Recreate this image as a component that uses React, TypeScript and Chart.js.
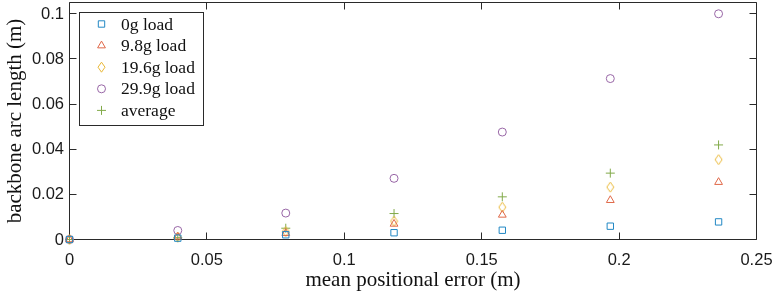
import React, { useEffect, useRef } from 'react';
import { Chart, registerables } from 'chart.js';

Chart.register(...registerables);

// ---- data ----
const xValues = [0, 0.0394, 0.0787, 0.1181, 0.1575, 0.1968, 0.2362];
const load0g = [0, 0.0006, 0.0021, 0.003, 0.0041, 0.0059, 0.0078];
const load9_8g = [0, 0.0012, 0.0028, 0.0069, 0.0109, 0.0174, 0.0254];
const load19_6g = [0, 0.001, 0.0035, 0.0081, 0.0143, 0.0232, 0.0354];
const load29_9g = [0, 0.004, 0.0117, 0.0271, 0.0476, 0.0713, 0.1];
const average = [0, 0.0008, 0.005, 0.0115, 0.0189, 0.0294, 0.0419];

const seriesLabels = ['0g load', '9.8g load', '19.6g load', '29.9g load', 'average'];
const seriesValues = [load0g, load9_8g, load19_6g, load29_9g, average];
const seriesColors = ['#2288c4', '#e06848', '#eab836', '#9866a6', '#82aa4a'];
const seriesMarkers = ['square', 'triangle', 'diamond', 'circle', 'plus'];

const xTicks = [0, 0.05, 0.1, 0.15, 0.2, 0.25];
const yTicks = [0, 0.02, 0.04, 0.06, 0.08, 0.1];
const xTitle = 'mean positional error (m)';
const yTitle = 'backbone arc length (m)';

const AXIS_COLOR = '#2a2a2a';
const TICK_LEN = 7;
const TICK_FONT = '16.5px "Liberation Sans", Arial, sans-serif';

function fmt(v: number) {
  return String(Number(v.toFixed(4)));
}

function makeDiamond(color: string) {
  const c = document.createElement('canvas');
  c.width = 9;
  c.height = 12;
  const g = c.getContext('2d')!;
  g.strokeStyle = color;
  g.lineWidth = 1;
  g.beginPath();
  g.moveTo(4.5, 1);
  g.lineTo(8, 6);
  g.lineTo(4.5, 11);
  g.lineTo(1, 6);
  g.closePath();
  g.stroke();
  return c;
}

function drawMarker(ctx: CanvasRenderingContext2D, kind: string, x: number, y: number, color: string) {
  ctx.save();
  ctx.strokeStyle = color;
  ctx.lineWidth = 1;
  ctx.beginPath();
  if (kind === 'square') {
    ctx.rect(x - 3.2, y - 3.2, 6.4, 6.4);
  } else if (kind === 'triangle') {
    const r = 4.5;
    ctx.moveTo(x, y - r);
    ctx.lineTo(x + r * 0.866, y + r * 0.5);
    ctx.lineTo(x - r * 0.866, y + r * 0.5);
    ctx.closePath();
  } else if (kind === 'diamond') {
    ctx.moveTo(x, y - 5);
    ctx.lineTo(x + 3.5, y);
    ctx.lineTo(x, y + 5);
    ctx.lineTo(x - 3.5, y);
    ctx.closePath();
  } else if (kind === 'circle') {
    ctx.arc(x, y, 4, 0, Math.PI * 2);
  } else {
    ctx.moveTo(x - 4.5, y);
    ctx.lineTo(x + 4.5, y);
    ctx.moveTo(x, y - 4.5);
    ctx.lineTo(x, y + 4.5);
  }
  ctx.stroke();
  ctx.restore();
}

const boxPlugin = {
  id: 'matlabBox',
  beforeDatasetsDraw(chart: any) {
    const { ctx, chartArea: a, scales } = chart;
    const xs = scales.x;
    const ys = scales.y;
    ctx.save();
    ctx.strokeStyle = AXIS_COLOR;
    ctx.lineWidth = 1;
    ctx.beginPath();
    ctx.rect(a.left, a.top, a.right - a.left, a.bottom - a.top);
    for (const v of xTicks) {
      const p = Math.round(xs.getPixelForValue(v) - 0.5) + 0.5;
      ctx.moveTo(p, a.bottom);
      ctx.lineTo(p, a.bottom - TICK_LEN);
      ctx.moveTo(p, a.top);
      ctx.lineTo(p, a.top + TICK_LEN);
    }
    for (const v of yTicks) {
      const p = Math.round(ys.getPixelForValue(v) - 0.5) + 0.5;
      ctx.moveTo(a.left, p);
      ctx.lineTo(a.left + TICK_LEN, p);
      ctx.moveTo(a.right, p);
      ctx.lineTo(a.right - TICK_LEN, p);
    }
    ctx.stroke();

    // tick labels
    ctx.font = TICK_FONT;
    ctx.fillStyle = '#1a1a1a';
    ctx.textBaseline = 'middle';
    ctx.textAlign = 'center';
    for (const v of xTicks) {
      ctx.fillText(fmt(v), xs.getPixelForValue(v), a.bottom + 20.5);
    }
    ctx.textAlign = 'right';
    for (const v of yTicks) {
      ctx.fillText(fmt(v), a.left - 5.5, ys.getPixelForValue(v) + 0.5);
    }
    ctx.restore();
  },
};

const legendPlugin = {
  id: 'matlabLegend',
  afterDraw(chart: any) {
    const { ctx, chartArea: a } = chart;
    const left = a.left + 10;
    const top = a.top + 10;
    const w = 124;
    const h = 113;
    ctx.save();
    ctx.fillStyle = '#ffffff';
    ctx.strokeStyle = AXIS_COLOR;
    ctx.lineWidth = 1;
    ctx.fillRect(left, top, w, h);
    ctx.strokeRect(left, top, w, h);
    ctx.font = '17.5px "Liberation Serif", serif';
    ctx.fillStyle = '#111111';
    ctx.textBaseline = 'middle';
    ctx.textAlign = 'left';
    seriesLabels.forEach((label, i) => {
      const cy = top + 11.5 + i * 21.6;
      drawMarker(ctx, seriesMarkers[i], left + 22, cy, seriesColors[i]);
      ctx.fillText(label, left + 41.5, cy + 1);
    });
    ctx.restore();
  },
};

export default function App() {
  const ref = useRef<HTMLCanvasElement | null>(null);

  useEffect(() => {
    document.body.style.margin = '0';
    const canvas = ref.current!;
    const datasets = seriesLabels.map((label, i) => {
      const kind = seriesMarkers[i];
      let pointStyle: any = 'circle';
      let radius = 4;
      if (kind === 'square') { pointStyle = 'rect'; radius = 4.5; }
      else if (kind === 'triangle') { pointStyle = 'triangle'; radius = 4.5; }
      else if (kind === 'diamond') { pointStyle = makeDiamond(seriesColors[i]); radius = 5; }
      else if (kind === 'plus') { pointStyle = 'cross'; radius = 4.5; }
      return {
        label,
        data: xValues.map((x, j) => ({ x, y: seriesValues[i][j] })),
        showLine: false,
        pointStyle,
        pointRadius: radius,
        pointHoverRadius: radius,
        pointBorderWidth: 1,
        pointBorderColor: seriesColors[i],
        pointBackgroundColor: 'rgba(0,0,0,0)',
        borderColor: seriesColors[i],
        backgroundColor: 'rgba(0,0,0,0)',
        clip: false as any,
      };
    });

    const chart = new Chart(canvas, {
      type: 'scatter',
      data: { datasets },
      plugins: [boxPlugin, legendPlugin],
      options: {
        animation: false,
        responsive: false,
        devicePixelRatio: 1,
        layout: { autoPadding: false, padding: { left: 0, right: 18.5, top: 2.5, bottom: 0 } },
        plugins: { legend: { display: false }, tooltip: { enabled: false } },
        events: [],
        scales: {
          x: {
            type: 'linear',
            position: 'bottom',
            min: 0,
            max: 0.25,
            afterBuildTicks: (s: any) => { s.ticks = xTicks.map((v) => ({ value: v })); },
            afterFit: (s: any) => {
              s.height = 54.5;
              s.paddingLeft = 0;
              s.paddingRight = 0;
            },
            ticks: { display: false },
            grid: { display: false, drawTicks: false },
            border: { display: false },
            title: {
              display: true,
              text: xTitle,
              font: { family: '"Liberation Serif", serif', size: 21, lineHeight: 1 },
              color: '#111111',
              padding: { top: 0, bottom: 3.5 },
            },
          },
          y: {
            type: 'linear',
            position: 'left',
            min: 0,
            max: 0.105,
            afterBuildTicks: (s: any) => { s.ticks = yTicks.map((v) => ({ value: v })); },
            afterFit: (s: any) => {
              s.width = 69.5;
              s.paddingTop = 0;
              s.paddingBottom = 0;
            },
            ticks: { display: false },
            grid: { display: false, drawTicks: false },
            border: { display: false },
            title: {
              display: true,
              text: yTitle,
              font: { family: '"Liberation Serif", serif', size: 21, lineHeight: 1 },
              color: '#111111',
              padding: { top: 4.5, bottom: 0 },
            },
          },
        },
      },
    } as any);
    return () => chart.destroy();
  }, []);

  return (
    <div style={{ position: 'fixed', left: 0, top: 0, width: 775, height: 294, background: '#fff' }}>
      <canvas ref={ref} width={775} height={294} style={{ display: 'block', width: 775, height: 294 }} />
    </div>
  );
}
